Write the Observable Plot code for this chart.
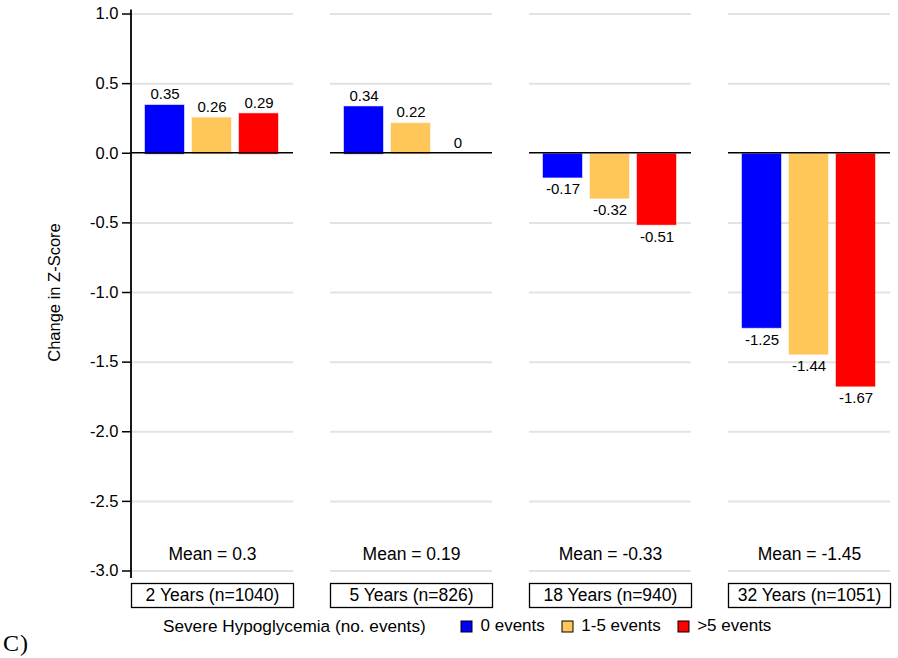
<!DOCTYPE html>
<html><head><meta charset="utf-8">
<script src="https://cdn.jsdelivr.net/npm/d3@7"></script>
<script src="https://cdn.jsdelivr.net/npm/@observablehq/plot@0.6"></script>
<style>
body{margin:0;background:#fff;}
#wrap{position:relative;width:898px;height:658px;background:#fff;font-family:"Liberation Sans",Arial,sans-serif;color:#000;overflow:hidden;}
#wrap svg{display:block;}
</style></head><body><div id="wrap"></div>
<script>
const periods = ["2 Years (n=1040)", "5 Years (n=826)", "18 Years (n=940)", "32 Years (n=1051)"];
const groups = ["0 events", "1-5 events", ">5 events"];
const colors = ["#0000ff", "#ffc65a", "#ff0000"];
const values2y = [0.35, 0.26, 0.29];
const values5y = [0.34, 0.22, 0];
const values18y = [-0.17, -0.32, -0.51];
const values32y = [-1.25, -1.44, -1.67];
const means = [0.3, 0.19, -0.33, -1.45];
const yTicks = [1, 0.5, 0, -0.5, -1, -1.5, -2, -2.5, -3];
const axisTitle = "Change in Z-Score";
const legendTitle = "Severe Hypoglycemia (no. events)";
const panelLabel = "C)";

const seriesByPeriod = [values2y, values5y, values18y, values32y];
const data = periods.flatMap((p, i) => groups.map((g, j) => ({period: p, group: g, value: seriesByPeriod[i][j]})));
const meanData = periods.map((p, i) => ({period: p, mean: means[i]}));

const font = '"Liberation Sans", Arial, sans-serif';
const plot = Plot.plot({
  width: 898, height: 612,
  marginLeft: 131, marginRight: 7.7, marginTop: 13.5, marginBottom: 41.5,
  style: {fontFamily: font, fontSize: "16.5px", color: "#000", background: "#fff"},
  fx: {domain: periods, paddingInner: 0.1863, paddingOuter: 0},
  x: {domain: groups, paddingInner: 0.168, paddingOuter: 0.289, axis: null},
  y: {domain: [-3, 1]},
  color: {domain: groups, range: colors},
  marks: [
    Plot.ruleY(yTicks.filter(d => d !== 0), {stroke: "#e3e3e3", strokeWidth: 2}),
    Plot.barY(data, {fx: "period", x: "group", y: "value", fill: "group", stroke: "group", strokeOpacity: 0.45, strokeWidth: 1, inset: 0, dy: 1}),
    Plot.ruleY([0], {stroke: "#000", strokeWidth: 1.6, dy: -0.5}),
    Plot.text(data.filter(d => d.value >= 0), {fx: "period", x: "group", y: "value", text: d => String(d.value), dy: -10, fontSize: 15, fill: "#000"}),
    Plot.text(data.filter(d => d.value < 0), {fx: "period", x: "group", y: "value", text: d => String(d.value), dy: 12.5, fontSize: 15, fill: "#000"}),
    Plot.text(meanData, {fx: "period", text: d => `Mean = ${d.mean}`, frameAnchor: "bottom", dy: -11, fontSize: 17.5, fill: "#000"}),
    Plot.frame({stroke: "#000", strokeWidth: 1.3, insetTop: 569.5, insetBottom: -36.5}),
    Plot.axisY({ticks: yTicks, tickFormat: d => d.toFixed(1), tickSize: 9, tickPadding: 4, strokeWidth: 1.5,
      label: axisTitle, labelAnchor: "center", labelArrow: "none", labelOffset: 83, fontSize: 16.5}),
    Plot.axisFx({anchor: "bottom", tickSize: 0, tickPadding: 18, label: null, fontSize: 17.5})
  ]
});

const wrap = document.getElementById("wrap");
wrap.appendChild(plot);

// y axis domain line
const ys = plot.scale("y");
d3.select(plot).append("line")
  .attr("x1", 131).attr("x2", 131)
  .attr("y1", ys.apply(1) - 4).attr("y2", ys.apply(-3) + 7.5)
  .attr("stroke", "#000").attr("stroke-width", 1.8);

// legend row
const title = document.createElement("div");
title.textContent = legendTitle;
Object.assign(title.style, {position: "absolute", left: "163px", top: "616px", fontSize: "17.2px", lineHeight: "20px", fontFamily: font, whiteSpace: "nowrap"});
wrap.appendChild(title);

const leg = plot.legend("color", {legend: "swatches", swatchSize: 11, style: {fontFamily: font, fontSize: "17px", color: "#000"}});
Object.assign(leg.style, {position: "absolute", left: "461px", top: "609.5px", margin: "0"});
d3.select(leg).selectAll("svg rect").attr("stroke", "#000").attr("stroke-width", 1);
wrap.appendChild(leg);

const pl = document.createElement("div");
pl.textContent = panelLabel;
Object.assign(pl.style, {position: "absolute", left: "3px", top: "629px", fontSize: "24px", lineHeight: "28px", fontFamily: '"Liberation Serif", "Times New Roman", serif', letterSpacing: "1px"});
wrap.appendChild(pl);
</script></body></html>
